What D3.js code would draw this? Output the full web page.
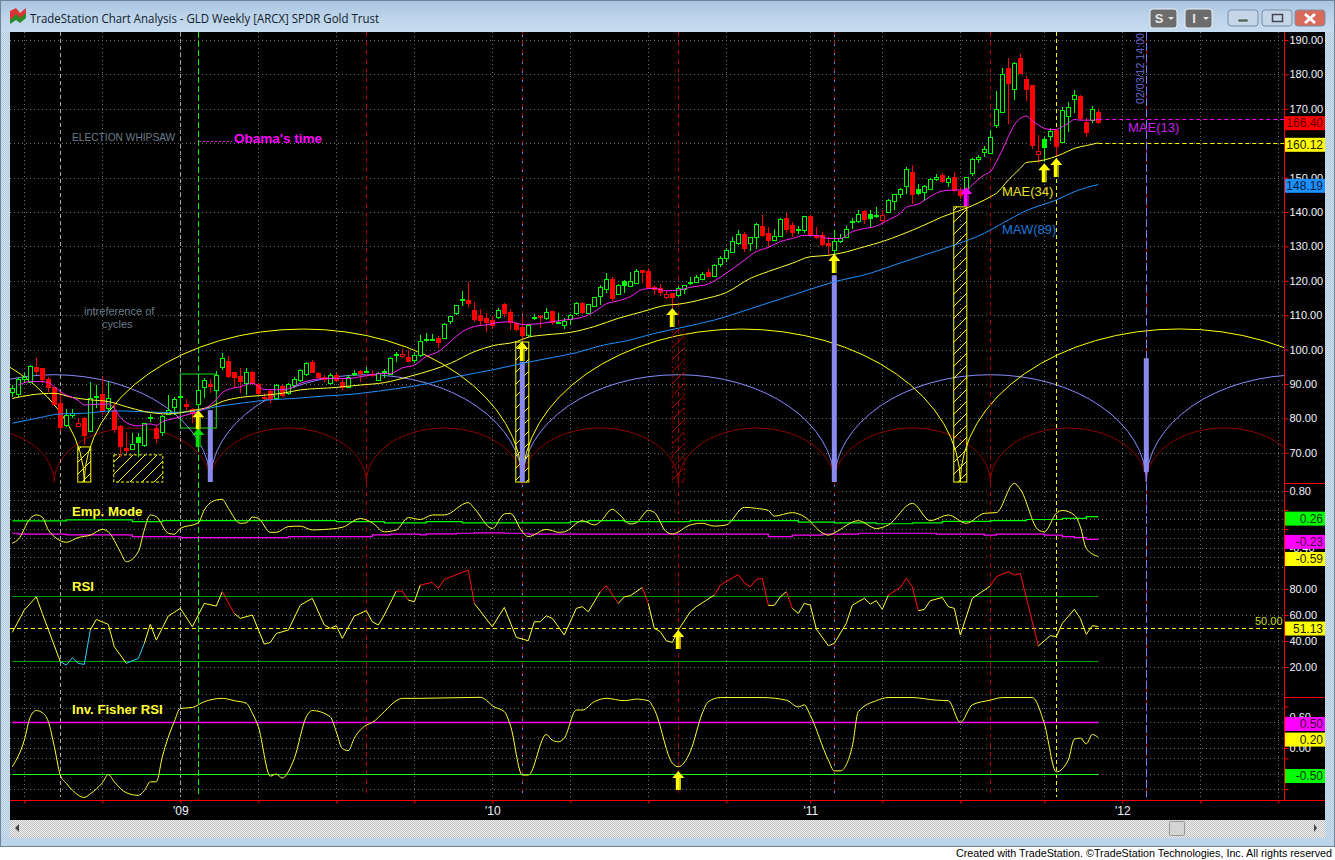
<!DOCTYPE html>
<html>
<head>
<meta charset="utf-8">
<title>GLD Weekly</title>
<script src="https://cdnjs.cloudflare.com/ajax/libs/d3/7.8.5/d3.min.js"></script>
<style>
  html, body { margin: 0; padding: 0; background: #fff; }
  svg { display: block; font-family: "Liberation Sans", Arial, sans-serif; }
</style>
</head>
<body>
<div id="chart"></div>
<script>
// weekly GLD candles, one value per bar
const opens = [87.8,87.0,91.4,90.7,94.8,94.6,91.4,89.0,84.4,78.0,81.0,78.8,80.0,76.3,86.1,87.1,82.9,82.4,77.8,71.5,71.2,73.0,72.2,80.1,77.3,76.1,81.3,83.4,86.1,84.2,82.7,84.2,89.0,89.9,88.3,95.0,96.7,93.5,92.3,90.2,93.5,90.0,86.3,88.0,85.8,89.4,87.3,89.6,91.2,92.8,96.5,93.2,92.0,90.2,92.6,
  90.7,89.2,93.1,93.8,93.7,92.9,91.2,93.5,92.9,98.5,98.6,97.8,97.0,98.3,103.0,103.0,103.3,103.3,108.4,110.5,114.4,114.4,111.5,110.0,109.1,108.5,109.6,113.3,110.9,107.6,106.6,104.3,109.4,109.7,109.2,111.1,107.8,107.2,108.8,110.5,113.5,110.6,112.7,115.7,117.5,120.4,116.2,118.9,118.5,119.5,123.0,122.8,118.3,117.8,116.1,116.4,115.9,
  117.5,119.5,119.6,120.5,122.7,121.5,125.0,126.6,128.5,130.9,133.5,131.1,132.8,135.8,133.8,132.0,133.1,138.2,136.1,134.8,134.9,138.8,133.4,133.3,130.9,129.0,131.5,132.8,137.1,137.5,140.2,138.4,138.8,139.0,140.1,143.1,145.1,147.6,151.5,145.6,145.7,146.8,149.7,150.7,148.6,150.1,146.1,146.4,151.2,155.3,157.5,157.2,
  165.3,169.2,182.0,175.8,184.8,178.8,176.9,157.8,159.0,162.1,163.8,160.4,167.9,172.8,173.7,166.2,166.7,169.1];
const highs = [89.7,92.1,93.1,95.5,97.5,94.6,92.1,89.2,87.8,82.6,82.6,80.0,80.3,90.7,89.7,92.0,90.7,84.6,78.1,76.1,75.7,75.7,78.8,81.3,78.1,81.0,86.8,86.3,91.6,85.5,82.9,91.6,91.6,91.4,93.9,98.9,98.0,93.5,94.6,94.6,93.9,90.2,87.3,88.3,90.0,89.7,90.4,91.9,94.3,96.5,97.0,93.6,92.6,93.1,93.1,
  91.6,92.6,94.1,94.1,95.0,94.1,93.6,94.3,97.8,99.4,100.1,99.9,98.9,104.2,104.7,104.4,104.0,107.8,109.8,112.9,117.1,119.7,113.9,111.7,110.5,109.8,112.0,113.5,111.7,108.1,109.8,107.3,110.4,110.1,112.0,111.2,110.5,109.1,110.4,113.9,113.9,113.3,115.4,118.8,122.2,121.0,119.1,120.2,122.7,123.3,123.0,123.6,118.7,119.1,117.3,116.4,118.5,
  118.7,121.0,121.6,122.7,123.3,124.9,127.2,129.4,132.6,134.8,134.3,132.8,136.9,139.1,135.7,135.1,138.2,139.6,137.2,135.9,138.8,139.1,135.5,134.3,132.8,134.8,133.5,135.9,138.2,140.6,140.6,140.6,141.4,140.6,143.7,145.2,146.9,153.2,153.7,148.1,147.9,149.8,151.0,151.4,150.5,151.7,147.4,150.3,155.6,156.6,159.2,163.8,
  175.3,181.8,184.9,183.7,185.9,179.5,176.9,162.4,161.9,164.3,164.2,170.4,172.1,175.5,174.0,167.2,170.8,169.8];
const lows = [86.3,86.3,90.2,90.2,92.6,90.2,87.8,83.9,76.4,77.4,80.0,77.4,72.3,76.2,82.9,81.0,82.0,75.7,68.9,69.8,71.0,68.9,71.8,79.0,72.8,74.9,81.0,81.0,82.0,82.4,78.8,82.0,85.8,87.3,87.3,94.1,91.6,88.7,87.3,86.8,89.7,86.8,84.9,84.4,85.4,86.3,86.8,88.7,90.7,92.3,93.1,91.6,90.7,89.7,90.7,
  88.3,89.2,92.3,90.7,93.1,92.1,91.0,91.6,92.6,96.5,97.5,96.5,96.0,97.9,102.3,102.4,100.6,103.0,107.4,110.0,112.7,112.3,108.1,106.9,105.2,105.9,108.8,109.6,105.7,105.5,102.8,103.8,108.6,106.2,108.6,107.2,107.6,105.9,107.2,110.1,110.4,110.4,112.3,113.0,116.4,114.0,115.9,116.4,118.1,119.1,119.3,117.5,115.9,115.6,114.6,112.0,115.4,
  116.2,118.8,119.3,120.2,121.2,121.2,124.1,125.6,128.2,130.4,128.5,128.8,129.2,132.6,129.7,131.7,132.8,133.8,132.8,133.6,133.8,133.0,132.1,129.9,127.5,127.5,131.1,132.3,135.2,136.9,136.5,135.3,138.4,136.5,139.6,140.6,144.0,145.2,142.3,144.9,143.3,146.4,149.1,148.5,147.2,145.9,143.7,145.9,150.5,154.2,155.9,156.9,
  164.3,168.9,165.6,172.6,180.3,172.4,158.2,154.1,154.6,160.7,155.9,160.1,163.3,168.7,166.7,161.9,166.0,165.5];
const closes = [88.7,91.4,92.1,95.2,93.8,91.4,89.0,84.2,77.4,80.9,81.5,77.9,75.2,85.8,86.6,82.2,85.8,76.9,72.0,70.8,72.5,74.7,78.6,80.3,74.4,80.7,82.4,85.5,86.5,83.6,81.5,88.4,91.2,89.5,92.6,97.7,92.3,92.1,91.0,93.5,90.2,87.3,85.9,85.5,89.6,86.8,90.0,91.4,94.1,96.2,93.6,92.0,91.4,92.6,91.2,
  89.0,91.9,93.3,93.3,93.9,92.7,93.1,93.7,97.5,98.7,98.0,96.7,98.3,102.6,103.2,103.2,102.2,107.4,109.7,112.9,114.6,113.6,109.0,108.6,108.1,107.2,111.4,110.7,108.1,105.9,104.3,107.1,109.6,109.4,110.8,108.1,108.1,108.4,110.2,113.5,111.0,113.2,115.2,118.3,120.4,115.1,118.7,119.8,119.8,122.8,122.6,118.1,117.6,116.6,115.4,115.4,117.8,
  118.7,119.7,121.0,121.9,121.4,124.5,126.5,128.9,131.5,133.5,129.6,132.6,136.4,133.4,131.9,132.9,137.9,135.1,134.1,135.1,138.8,133.2,132.6,130.7,130.3,131.5,132.3,135.2,137.4,139.3,138.1,139.3,139.0,137.8,143.6,145.1,146.6,152.4,145.1,146.6,147.5,149.7,150.1,149.1,149.8,146.4,144.9,150.1,155.3,156.1,158.2,161.7,
  169.8,180.1,177.4,183.4,180.5,175.8,159.5,157.0,161.1,163.5,159.2,169.6,170.6,174.0,167.2,163.3,169.8,166.3];
const filledUp = [21,102,143,151,172];
const hollowDown = [11,65,109,145,171];

// moving averages, read at the bars where the line could be read
const mae13Bars = [1,3,5,6,7,8,9,10,11,12,14,16,17,18,19,21,23,24,25,27,29,31,33,34,35,36,38,40,42,44,46,48,50,52,54,56,58,62,63,65,67,69,71,73,75,77,79,81,83,85,87,90,92,95,97,99,101,103,105,107,109,111,113,116,119,122,124,126,128,130,132,134,136,138,140,142,144,146,148,149,151,153,155,157,159,160,162,163,164,165,166,167,168,169,170,171,172,173,174,175,176,177,178,180,181];
const mae13 = [89.7,90.7,90.7,90.4,89.2,87.8,86.8,86.1,85.2,83.9,84.1,84.2,82.9,80.3,78.8,77.8,78.4,78.0,79.0,80.0,81.0,82.0,83.9,85.5,87.5,88.4,89.2,90.2,88.4,88.3,88.6,90.2,91.2,91.6,91.6,91.6,92.1,93.1,93.1,94.7,95.5,98.0,99.4,102.3,105.2,106.7,107.2,107.9,108.1,107.3,107.4,108.1,108.6,109.4,111.0,113.3,114.2,115.4,117.5,117.8,117.1,117.3,118.1,119.1,122.2,126.0,128.5,129.7,131.4,132.3,133.2,133.2,132.3,132.3,134.3,135.2,135.9,137.7,139.6,141.4,142.3,144.5,146.1,146.4,146.4,147.9,150.8,151.7,154.6,158.0,161.9,165.3,167.2,167.9,166.5,165.3,164.3,164.0,164.0,164.8,165.8,166.9,166.7,166.7,166.9];
const mae34Bars = [0,3,7,10,13,16,19,22,26,30,33,35,38,41,45,48,51,54,55,58,62,66,70,73,77,80,84,86,89,93,97,101,105,109,111,115,119,123,126,130,133,136,138,142,145,148,152,155,159,163,164,166,168,169,171,173,175,177,179,181];
const mae34 = [85.8,86.8,87.3,86.1,85.4,84.9,83.4,82.0,81.3,82.3,83.4,84.9,86.1,86.6,87.3,88.3,88.7,89.0,89.2,89.7,90.4,92.1,94.1,96.0,99.4,101.1,102.3,103.6,104.3,105.0,106.7,109.1,111.0,112.9,113.2,114.6,116.6,120.7,122.7,125.1,127.0,127.4,128.0,129.9,131.4,133.3,136.2,138.6,141.1,144.4,145.4,149.3,152.7,154.4,154.8,155.6,156.9,158.5,159.3,160.1];
const maw89Bars = [0,4,8,12,17,21,26,30,34,38,43,47,52,55,63,70,74,80,85,90,94,98,103,107,111,117,125,131,137,143,147,152,157,162,165,169,174,177,181];
const maw89 = [78.6,80.0,81.3,81.5,82.2,82.0,81.7,82.0,83.4,84.4,85.4,85.8,86.5,86.8,88.4,90.4,92.1,94.1,96.0,97.7,99.1,101.1,102.8,104.7,106.2,108.6,113.0,116.4,119.7,122.2,124.6,127.5,130.4,133.8,136.7,140.4,143.5,145.9,148.0];

// Emp. Mode panel
const emBars = [0,1,3,4,5,6,7,9,11,13,15,16,18,19,21,22,23,24,26,27,28,31,32,34,35,36,38,39,40,41,43,44,46,48,50,52,55,58,60,62,64,66,68,70,72,76,77,80,82,83,85,86,89,90,91,92,95,97,98,100,101,103,104,106,107,109,110,113,115,117,119,122,124,126,127,130,132,135,136,137,141,144,146,150,153,156,159,162,164,167,168,171,172,174,175,177,178,179,181];
const emValues = [-.30,-.22,.225,.295,.25,-.02,-.16,-.28,-.18,-.13,-.01,-.06,-.48,-.69,-.48,-.02,.295,.26,-.09,-.11,.01,.13,.40,.61,.625,.435,.12,.13,.25,.225,-.07,-.07,.05,.06,-.02,-.01,.035,.22,.13,-.06,-.02,.24,.20,.295,.295,.555,.435,.01,.315,.33,-.06,-.16,-.01,-.035,-.07,-.06,.175,.085,.155,.415,.33,.105,.13,.39,.35,-.06,-.105,.085,.12,.06,.085,.455,.435,.39,.27,.345,.26,-.08,-.13,-.08,.175,.01,.085,.54,.175,.295,.12,.33,.345,.96,.835,-.02,-.06,.33,.39,.295,.05,-.41,-.58];
const emUpperBars = [0,9,20,25,54,62,69,75,93,96,102,113,131,137,144,150,155,163,169,175,179,181];
const emUpper = [.17,.19,.155,.175,.155,.13,.155,.13,.155,.175,.155,.175,.145,.13,.11,.13,.16,.175,.20,.225,.26,.26];
const emLowerBars = [0,1,9,20,28,46,60,63,68,69,74,77,82,86,126,130,135,141,154,162,164,172,175,177,179,181];
const emLower = [-.09,-.11,-.125,-.16,-.18,-.16,-.125,-.11,-.125,-.105,-.09,-.08,-.09,-.11,-.16,-.13,-.11,-.09,-.11,-.13,-.11,-.13,-.16,-.18,-.22,-.22];

// RSI panel
const rsiBars = [0,2,4,5,8,9,10,11,12,13,14,16,17,19,21,22,23,24,26,28,30,32,34,35,37,38,40,42,43,44,46,48,50,52,53,54,55,57,59,60,61,62,64,65,66,67,68,70,71,72,76,77,80,82,84,86,87,88,89,90,92,94,95,96,98,99,101,102,103,105,106,107,108,109,110,111,113,114,117,118,121,122,123,124,125,126,127,128,129,130,131,132,133,134,136,137,139,140,142,143,144,145,146,148,149,150,151,152,153,155,156,157,158,160,163,164,166,167,168,171,173,174,175,177,178,179,180,181];
const rsiValues = [46.6,63.8,74.0,61.2,24.1,21.5,27.1,22.8,22.0,48.4,56.6,52.8,35.6,22.8,26.6,38.2,52.8,40.7,59.2,65.1,51.0,68.9,66.9,77.9,61.2,57.4,60.0,37.6,38.9,45.8,48.4,67.6,72.8,52.3,49.7,51.8,42.0,59.2,63.3,54.8,52.3,60.0,78.4,78.4,71.5,70.2,83.0,85.1,80.5,87.4,94.6,68.9,51.0,65.8,42.8,40.2,54.8,54.8,59.4,57.4,44.6,65.1,66.4,62.5,77.9,82.5,68.9,74.0,74.8,81.2,68.9,49.7,47.1,40.2,38.9,48.4,62.5,66.4,75.3,83.0,91.2,84.8,81.7,87.4,88.2,67.4,67.4,74.0,77.9,65.1,61.2,68.9,67.6,49.2,36.4,38.2,53.6,67.6,72.8,68.4,71.0,64.3,75.3,81.2,88.2,81.7,63.3,64.3,71.0,73.5,66.4,65.1,44.6,72.8,82.3,89.4,93.3,90.7,92.0,36.1,44.1,43.3,53.6,64.3,57.4,45.1,51.8,51.1];
const rsiLevels = [74.5,24.5];

// Inv. Fisher RSI panel
const fisherBars = [0,2,3,4,5,6,7,8,9,10,12,13,15,16,17,19,21,22,23,24,25,27,28,30,32,35,37,39,40,41,43,44,45,46,47,49,50,53,54,55,56,57,59,60,62,64,65,68,78,79,80,82,83,85,86,89,90,91,92,94,95,97,99,102,104,106,107,110,111,113,115,116,118,125,129,131,132,133,136,137,138,140,141,144,146,150,154,156,158,160,163,165,170,172,174,176,177,178,179,180,181];
const fisherValues = [-.36,.15,.60,.72,.68,.51,.03,-.52,-.68,-.81,-.95,-.88,-.67,-.51,-.65,-.86,-.91,-.82,-.65,-.65,-.17,.51,.76,.78,.89,.955,.91,.86,.67,.41,-.54,-.5,-.58,-.455,-.2,.6,.72,.6,.31,-.01,-.05,.19,.44,.49,.70,.91,.955,.955,.975,.92,.81,.7,.44,-.52,-.52,.26,.15,.12,.19,.73,.73,.89,.955,.91,.94,.91,.74,-.29,-.36,-.07,.67,.89,.97,.97,.92,.79,.83,.63,-.23,-.44,-.44,.03,.70,.91,.97,.97,.92,.91,.49,.83,.92,.97,.97,.47,-.46,-.23,.17,.19,.08,.26,.20];
const fisherLevels = [.5,-.5];

// axes
const priceTicks = [190,180,170,160,150,140,130,120,110,100,90,80,70];
const emGrid = [.8,.6,.4,.2,0,-.2,-.4,-.6,-.8];
const emTicks = [.8,.4,0,-.4];
const emLabels = [.8,-.4];
const rsiTicks = [80,60,40,20];
const fisherGrid = [1.04,.77,.5,.2,0,-.2,-.5,-.79];
const fisherTicks = [.8,.6,.2,0,-.2,-.79];
const fisherLabels = [.6,0];
const timeTicks = [2,15,28,41,54,67,80,93,106,119,133,145,158,172,185,198,211];
const yearBars = [28,80,133,185];
const yearLabels = ["'09","'10","'11","'12"];

// cycle arcs, vertical markers, boxes
const arcBase = 61.5;
const yellowCusps = [-61,12,85,158,231];
const yellowPeak = 106;
const blueCusps = [-19,33,85,137,189,241];
const bluePeak = 92.7;
const redCusps = [-19,7,33,59,85,111,137,163,189,215];
const redPeak = 77.2;
const grayMarks = [8,28];
const redMarks = [59,85,111,137,163,189];
const blueMarks = [85,137];
const blueBarBars = [33,85,137,189];
const blueBarTops = [82.4,96.5,121.6,97.5];
const blueBarBottoms = [61.5,61.5,61.5,64.4];
const hatchLeft = [11,17,84,157];
const hatchRight = [13,25,86,159];
const hatchTop = [71.7,69.4,102.2,141.5];
const arrowBars = [31,85,110,137,172,174];
const arrowTips = [82.4,102.2,112.1,127.8,154.2,155.7];

const W = 1335, H = 860;
const plotL = 10, plotT = 32, axisX = 1284, plotR = 1325, plotB = 820, xLineY = 800;
const lastBar = closes.length - 1;

const x = d3.scaleLinear().domain([0, 211]).range([12.3, 1278.3]);
const yP = d3.scaleLinear().domain([70, 190]).range([452.8, 40]);
const yE = d3.scaleLinear().domain([-.59, .8]).range([557, 491]);
const yR = d3.scaleLinear().domain([20, 80]).range([667, 589]);
const yF = d3.scaleLinear().domain([-.5, .5]).range([774, 722]);

const svg = d3.select("#chart").append("svg").attr("width", W).attr("height", H);
const defs = svg.append("defs");

// window chrome
const tg = defs.append("linearGradient").attr("id", "titleGrad").attr("x1", 0).attr("x2", 0).attr("y1", 0).attr("y2", 1);
tg.append("stop").attr("offset", "0%").attr("stop-color", "#a9c4e0");
tg.append("stop").attr("offset", "50%").attr("stop-color", "#bcd3ea");
tg.append("stop").attr("offset", "100%").attr("stop-color", "#c6dcf0");

const dither = defs.append("pattern").attr("id", "dither").attr("width", 2).attr("height", 2).attr("patternUnits", "userSpaceOnUse");
dither.append("rect").attr("width", 2).attr("height", 2).attr("fill", "#f0f0f0");
dither.append("rect").attr("width", 1).attr("height", 1).attr("fill", "#c0c0c0");
dither.append("rect").attr("x", 1).attr("y", 1).attr("width", 1).attr("height", 1).attr("fill", "#c0c0c0");

const frameDither = defs.append("pattern").attr("id", "frameDither").attr("width", 2).attr("height", 2).attr("patternUnits", "userSpaceOnUse");
frameDither.append("rect").attr("width", 2).attr("height", 2).attr("fill", "#d8e6f2");
frameDither.append("rect").attr("width", 1).attr("height", 1).attr("fill", "#a8c4de");
frameDither.append("rect").attr("x", 1).attr("y", 1).attr("width", 1).attr("height", 1).attr("fill", "#a8c4de");

svg.append("rect").attr("width", W).attr("height", H).attr("fill", "#fff");
svg.append("rect").attr("width", W).attr("height", 846).attr("fill", "url(#frameDither)");
svg.append("rect").attr("x", 1).attr("width", W - 2).attr("height", 32).attr("fill", "url(#titleGrad)");
svg.append("rect").attr("y", 838).attr("width", W).attr("height", 8).attr("fill", "#bcd4ea");
svg.append("line").attr("x1", 0).attr("x2", W).attr("y1", 846.5).attr("y2", 846.5).attr("stroke", "#111");
svg.append("rect").attr("x", 0.5).attr("y", 0.5).attr("width", W - 1).attr("height", 846).attr("fill", "none").attr("stroke", "#6f8296");
svg.append("rect").attr("x", plotL).attr("y", plotT).attr("width", plotR - plotL).attr("height", plotB - plotT).attr("fill", "#000");

// title bar
svg.append("path").attr("d", "M10 22V11l6-3 4 5 6-5v6l-6 5-4-4-6 7z").attr("fill", "#d33");
svg.append("path").attr("d", "M10 24v-4l6-6 4 4 6-5v5l-6 5-4-3-6 4z").attr("fill", "#2a8a2a");
svg.append("text").attr("x", 30).attr("y", 23).attr("font-size", 12.5).attr("fill", "#10202c")
  .attr("font-family", "'Open Sans', sans-serif").attr("textLength", 349).attr("lengthAdjust", "spacingAndGlyphs")
  .text("TradeStation Chart Analysis - GLD Weekly [ARCX] SPDR Gold Trust");

const smallBtn = [["S", 1150], ["I", 1185]];
smallBtn.forEach(b => {
  svg.append("rect").attr("x", b[1]).attr("y", 9).attr("width", 27).attr("height", 19).attr("rx", 3)
    .attr("fill", "#6c6c6c").attr("stroke", "#e8eef4");
  svg.append("text").attr("x", b[1] + 9).attr("y", 23).attr("text-anchor", "middle").attr("font-size", 13).attr("font-weight", "bold")
    .attr("fill", "#e8e8e8").text(b[0]);
  svg.append("path").attr("d", `M${b[1] + 18} 17h6l-3 3z`).attr("fill", "#e8e8e8");
});
const winBtn = [[1228, 30, "#c4d6e8"], [1262, 30, "#c4d6e8"], [1295, 30, "#d86a5c"]];
winBtn.forEach(b => {
  svg.append("rect").attr("x", b[0]).attr("y", 10).attr("width", b[1]).attr("height", 16).attr("rx", 3)
    .attr("fill", b[2]).attr("stroke", "#7a8ea4");
});
svg.append("rect").attr("x", 1238).attr("y", 19).attr("width", 10).attr("height", 3).attr("fill", "#566").attr("stroke", "#eee").attr("stroke-width", .5);
svg.append("rect").attr("x", 1272.5).attr("y", 14.5).attr("width", 10).attr("height", 7).attr("fill", "none").attr("stroke", "#445").attr("stroke-width", 1.5);
svg.append("path").attr("d", "M1305 14l10 9M1315 14l-10 9").attr("stroke", "#fff").attr("stroke-width", 3);

// scroll bar
svg.append("rect").attr("x", plotL).attr("y", plotB).attr("width", plotR - plotL).attr("height", 18).attr("fill", "url(#dither)");
svg.append("path").attr("d", "M15 828l4-4v8z").attr("fill", "#444");
svg.append("path").attr("d", "M1317 828l-3-4v8z").attr("fill", "#444");
svg.append("rect").attr("x", 1169.5).attr("y", 821.5).attr("width", 15).attr("height", 14).attr("rx", 1).attr("fill", "#d4d4d4").attr("stroke", "#999");

svg.append("text").attr("x", 1332).attr("y", 856.5).attr("text-anchor", "end").attr("font-size", 11.5).attr("fill", "#000")
  .attr("textLength", 376).attr("lengthAdjust", "spacingAndGlyphs")
  .text("Created with TradeStation. \u00A9TradeStation Technologies, Inc. All rights reserved");

// grid
const grid = svg.append("g").attr("stroke", "#707070").attr("stroke-dasharray", "1 3").attr("fill", "none");
const hGrid = priceTicks.map(d => yP(d)).concat(emGrid.map(d => yE(d)), rsiTicks.map(d => yR(d)), fisherGrid.map(d => yF(d)));
grid.selectAll(".h").data(hGrid).join("line").attr("x1", plotL).attr("x2", axisX)
  .attr("y1", d => Math.round(d) + .5).attr("y2", d => Math.round(d) + .5);
grid.selectAll(".v").data(timeTicks).join("line").attr("y1", plotT).attr("y2", xLineY)
  .attr("x1", d => Math.round(x(d)) + .5).attr("x2", d => Math.round(x(d)) + .5);

defs.append("clipPath").attr("id", "plotClip").append("rect").attr("x", plotL).attr("y", plotT).attr("width", axisX - plotL).attr("height", xLineY - plotT);
const chart = svg.append("g").attr("clip-path", "url(#plotClip)");

// half ellipse between each pair of cycle lows
const drawArcs = (cusps, peak, colour) => {
  const g = chart.append("g").attr("fill", "none").attr("stroke", colour);
  d3.pairs(cusps).forEach(([a, b]) => {
    const rx = (x(b) - x(a)) / 2;
    const ry = yP(arcBase) - yP(peak);
    g.append("path").attr("d", `M${x(a)} ${yP(arcBase)}A${rx} ${ry} 0 0 1 ${x(b)} ${yP(arcBase)}`);
  });
};
drawArcs(redCusps, redPeak, "#900000");
drawArcs(blueCusps, bluePeak, "#8a8aff");
drawArcs(yellowCusps, yellowPeak, "#ffff00");

// vertical markers
const vLine = (bar, colour, dash, offset) => chart.append("line")
  .attr("x1", Math.round(x(bar)) + .5).attr("x2", Math.round(x(bar)) + .5).attr("y1", plotT).attr("y2", 797)
  .attr("stroke", colour).attr("stroke-dasharray", dash).attr("stroke-dashoffset", offset || 0);
grayMarks.forEach(b => vLine(b, "#a8a8a8", "4 3"));
redMarks.forEach(b => vLine(b, "#a00000", "5 4"));
blueMarks.forEach(b => vLine(b, "#7c7cff", "2 7", 6));
vLine(189, "#7c7cff", "8 3");
vLine(31, "#ff00ff", "3 6", 6);
vLine(31, "#00ff00", "6 3");
vLine(174, "#ffff00", "4 3");

// hatched boxes
const hatch = (id, colour) => {
  const p = defs.append("pattern").attr("id", id).attr("width", 12).attr("height", 12).attr("patternUnits", "userSpaceOnUse");
  p.append("path").attr("d", "M-2 14L14 -2M-2 2L2 -2M10 14L14 10").attr("stroke", colour).attr("stroke-width", 1);
};
hatch("hatchYellow", "#ffff00");
hatch("hatchRed", "#a00000");
hatchLeft.forEach((b, i) => {
  chart.append("rect").attr("x", x(b) - .5).attr("y", yP(hatchTop[i]))
    .attr("width", x(hatchRight[i]) - x(b) + 1).attr("height", yP(arcBase) - yP(hatchTop[i]))
    .attr("fill", "url(#hatchYellow)").attr("stroke", "#ffff00")
    .attr("stroke-dasharray", i === 1 ? "3 2" : null);
});
chart.append("rect").attr("x", x(110)).attr("y", yP(105.7)).attr("width", x(112) - x(110)).attr("height", yP(arcBase) - yP(105.7))
  .attr("fill", "url(#hatchRed)").attr("stroke", "#a00000").attr("stroke-dasharray", "2 3");

// thick cycle bars
chart.selectAll(".cyc").data(blueBarBars).join("rect")
  .attr("x", d => x(d) - 2.5).attr("width", 5)
  .attr("y", (d, i) => yP(blueBarTops[i])).attr("height", (d, i) => yP(blueBarBottoms[i]) - yP(blueBarTops[i]))
  .attr("fill", "#8a8aee");

// green box around the election weeks
chart.append("rect").attr("x", x(28)).attr("y", yP(92.9)).attr("width", x(34) - x(28)).attr("height", yP(77.2) - yP(92.9))
  .attr("fill", "none").attr("stroke", "#20e020");

// candles
const candles = chart.append("g").attr("shape-rendering", "crispEdges");
closes.forEach((c, i) => {
  const o = opens[i], up = c >= o;
  const colour = up ? "#00ff00" : "#ff0000";
  const cx = Math.round(x(i)) + .5;
  candles.append("line").attr("x1", cx).attr("x2", cx).attr("y1", yP(highs[i])).attr("y2", yP(lows[i])).attr("stroke", colour);
  const top = Math.round(yP(Math.max(o, c))), bot = Math.round(yP(Math.min(o, c)));
  const filled = up ? filledUp.includes(i) : !hollowDown.includes(i);
  candles.append("rect").attr("x", cx - 2).attr("width", 4).attr("y", top + .5).attr("height", Math.max(bot - top, 1))
    .attr("fill", filled ? colour : "#000").attr("stroke", colour);
});

// averages
const maLine = (bars, vals, colour) => chart.append("path")
  .attr("d", d3.line().x((d, i) => x(bars[i])).y(d => yP(d)).curve(d3.curveMonotoneX)(vals))
  .attr("fill", "none").attr("stroke", colour).attr("stroke-width", 1);
maLine(maw89Bars, maw89, "#1e90ff");
maLine(mae34Bars, mae34, "#ffff33");
maLine(mae13Bars, mae13, "#ff22ff");

// level lines to the right of the last bar
const hDash = (y, x1, colour) => chart.append("line").attr("x1", x1).attr("x2", axisX).attr("y1", Math.round(y) + .5).attr("y2", Math.round(y) + .5)
  .attr("stroke", colour).attr("stroke-dasharray", "4 3");
hDash(yP(166.9), x(lastBar), "#ff00ff");
hDash(yP(160.1), x(lastBar), "#ffff00");
chart.append("line").attr("x1", 199).attr("x2", 232).attr("y1", 141.5).attr("y2", 141.5).attr("stroke", "#ff00ff").attr("stroke-dasharray", "2 2").attr("shape-rendering", "crispEdges");

// Emp. Mode
const panelLine = (bars, vals, y, colour, curve, width) => chart.append("path")
  .attr("d", d3.line().x((d, i) => x(bars[i])).y(d => y(d)).curve(curve)(vals))
  .attr("fill", "none").attr("stroke", colour).attr("stroke-width", width || 1);
panelLine(emUpperBars, emUpper, yE, "#00ff00", d3.curveStepAfter, 1.2);
panelLine(emLowerBars, emLower, yE, "#ff00ff", d3.curveStepAfter, 1.2);
panelLine(emBars, emValues, yE, "#ffff33", d3.curveMonotoneX, 1);

// RSI
rsiLevels.forEach(l => chart.append("line").attr("x1", x(0)).attr("x2", x(lastBar)).attr("y1", Math.round(yR(l)) + .5).attr("y2", Math.round(yR(l)) + .5).attr("stroke", "#00a000"));
hDash(yR(50), plotL, "#ffff00");
d3.pairs(rsiBars.map((b, i) => [b, rsiValues[i]])).forEach(([a, b]) => {
  const colour = a[1] > 75 ? "#ff1010" : a[1] < 28 ? "#30d0ff" : "#ffff33";
  chart.append("line").attr("x1", x(a[0])).attr("y1", yR(a[1])).attr("x2", x(b[0])).attr("y2", yR(b[1]))
    .attr("stroke", colour).attr("stroke-width", 1);
});

// Inv. Fisher RSI
fisherLevels.forEach((l, i) => chart.append("line").attr("x1", x(0)).attr("x2", x(lastBar)).attr("y1", Math.round(yF(l)) + .5).attr("y2", Math.round(yF(l)) + .5)
  .attr("stroke", i === 0 ? "#ff00ff" : "#20ff20").attr("stroke-width", i === 0 ? 1.6 : 1.2));
panelLine(fisherBars, fisherValues, yF, "#ffff33", d3.curveMonotoneX, 1);

// arrows pointing up at a bar
const arrow = (bar, tipY, colour, shade) => {
  const cx = x(bar);
  chart.append("path")
    .attr("d", `M${cx} ${tipY}l6 7h-3.5v12h-5v-12h-3.5z`).attr("fill", colour);
  chart.append("rect").attr("x", cx + 1).attr("y", tipY + 7).attr("width", 1.5).attr("height", 12).attr("fill", shade);
};
arrow(31, yP(77.2), "#00e000", "#008000");
arrowBars.forEach((b, i) => arrow(b, yP(arrowTips[i]), "#ffff00", "#808000"));
arrow(159, yP(147.3), "#ff00ff", "#800080");
arrow(111, yR(48.5), "#ffff00", "#c08000");
arrow(111, yF(-.44), "#ffff00", "#c0c000");

// text notes
const note = (tx, ty, str, colour, size, weight) => svg.append("text").attr("x", tx).attr("y", ty)
  .attr("fill", colour).attr("font-size", size).attr("font-weight", weight || "normal").text(str);
note(72, 141, "ELECTION WHIPSAW", "#6c7c88", 10.2);
note(234, 143, "Obama's time", "#ff00ff", 13.5, "bold");
note(84, 315, "intreference of", "#6c7c88", 11);
note(102, 328, "cycles", "#6c7c88", 11);
note(1128, 132, "MAE(13)", "#c820e8", 13);
note(1002, 196, "MAE(34)", "#e8e020", 13);
note(1002, 234, "MAW(89)", "#1c78d8", 13);
note(72, 516, "Emp. Mode", "#ffff33", 13.2, "bold");
note(72, 591, "RSI", "#ffff33", 13.2, "bold");
note(72, 714, "Inv. Fisher RSI", "#ffff33", 13.2, "bold");
note(1255, 625, "50.00", "#c8d820", 11);
svg.append("text").attr("transform", "translate(1144,104) rotate(-90)").attr("fill", "#6a6ad0").attr("font-size", 11.5)
  .attr("textLength", 71).attr("lengthAdjust", "spacingAndGlyphs").text("02/03/12 14:00");

// right hand scales
const styleAxis = g => {
  g.selectAll("path.domain").remove();
  g.selectAll("line").attr("stroke", "#ff0000");
  g.selectAll("text").attr("fill", "#f0f4ff").attr("font-size", 11).attr("font-family", "'Liberation Sans', Arial, sans-serif");
};
const rightAxis = (scale, ticks, fmt) => {
  svg.append("g").attr("transform", `translate(${axisX + .5},0)`)
    .call(d3.axisRight(scale).tickValues(ticks).tickSize(4).tickPadding(1).tickFormat(fmt))
    .call(styleAxis);
};
rightAxis(yP, priceTicks, d3.format(".2f"));
rightAxis(yE, emTicks, d => emLabels.includes(d) ? d3.format(".2f")(d).replace("\u2212", "-") : "");
rightAxis(yR, rsiTicks, d3.format(".2f"));
rightAxis(yF, fisherTicks, d => fisherLabels.includes(d) ? d3.format(".2f")(d) : "");

svg.append("line").attr("x1", axisX + .5).attr("x2", axisX + .5).attr("y1", plotT).attr("y2", xLineY).attr("stroke", "#ff0000");
[483.5, 697.5].forEach(y => svg.append("line").attr("x1", axisX).attr("x2", plotR).attr("y1", y).attr("y2", y).attr("stroke", "#ff0000"));

// bottom time axis
svg.append("g").attr("transform", `translate(0,${xLineY + .5})`)
  .call(d3.axisBottom(x).tickValues(timeTicks).tickSize(3).tickPadding(3)
    .tickFormat(d => yearBars.includes(d) ? yearLabels[yearBars.indexOf(d)] : ""))
  .call(g => g.selectAll("line").attr("stroke", "#ff0000"))
  .call(g => g.selectAll("text").attr("fill", "#f0f4ff").attr("font-size", 12).attr("font-family", "'Liberation Sans', Arial, sans-serif"))
  .call(g => g.select("path.domain").remove());
svg.append("line").attr("x1", plotL).attr("x2", plotR).attr("y1", xLineY + .5).attr("y2", xLineY + .5).attr("stroke", "#ff0000");

// last value tags
const tag = (y, str, colour, text) => {
  const cy = y + 2;
  svg.append("rect").attr("x", axisX + 1).attr("y", cy - 7).attr("width", plotR - axisX - 1).attr("height", 14).attr("fill", colour);
  svg.append("text").attr("x", 1323).attr("y", cy + 4).attr("text-anchor", "end").attr("font-size", 12)
    .attr("fill", text || "#202000").text(str);
};
tag(yP(166.4), "166.40", "#ff0000", "#600000");
tag(yP(160.12), "160.12", "#ffff00");
tag(yP(148.19), "148.19", "#1e90ff", "#002040");
tag(yE(.26), "0.26", "#00ff00", "#003000");
tag(yE(-.23), "-0.23", "#ff00ff", "#400040");
tag(yE(-.59), "-0.59", "#ffff00");
tag(yR(51.13), "51.13", "#ffff00");
tag(yF(.5), "0.50", "#ff00ff", "#400040");
tag(yF(.2), "0.20", "#ffff00");
tag(yF(-.5), "-0.50", "#00ff00", "#003000");
</script>
</body>
</html>
